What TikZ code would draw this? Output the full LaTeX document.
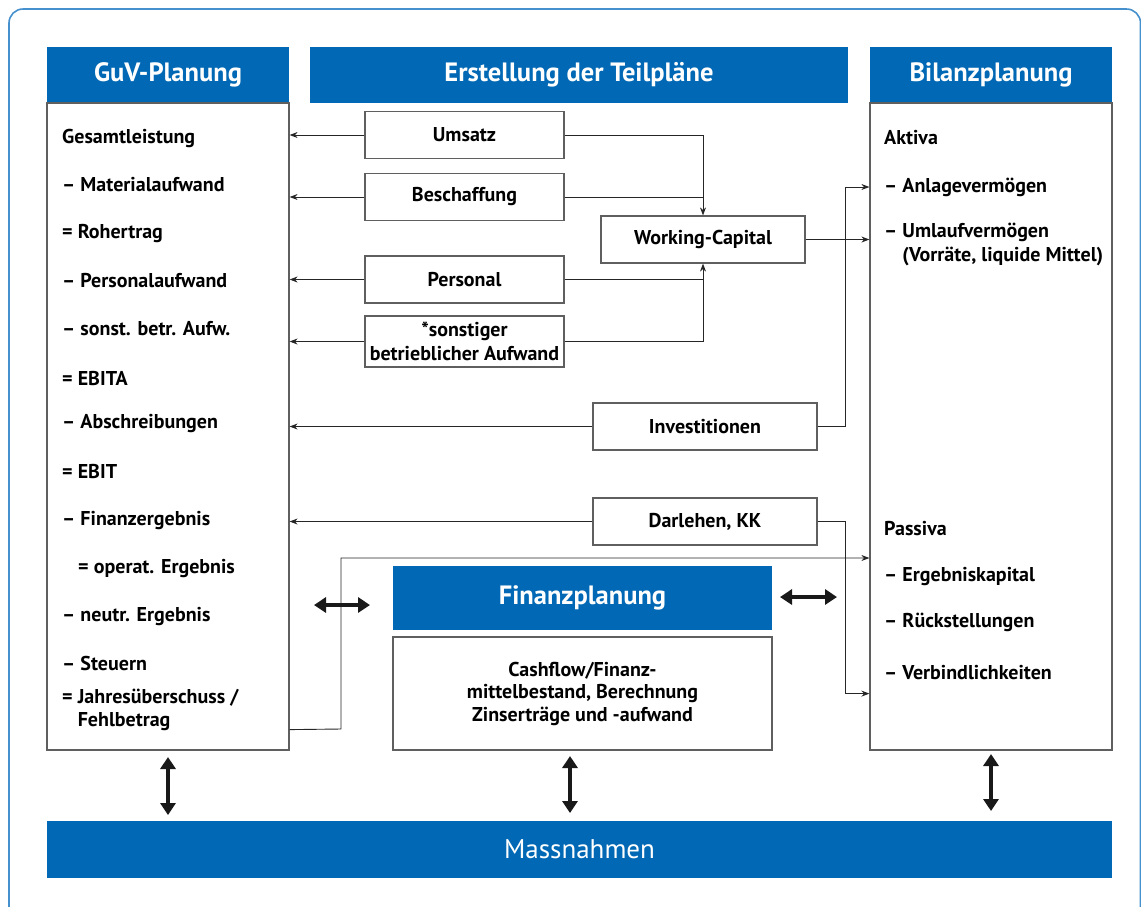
\documentclass[tikz,border=0pt]{standalone}
\usepackage{fontspec}
\setmainfont{PT Sans}
\usetikzlibrary{arrows.meta,calc}
\definecolor{hblue}{RGB}{0,104,180}
\definecolor{framec}{RGB}{70,145,205}
\definecolor{bgray}{RGB}{95,95,95}
\begin{document}
\begin{tikzpicture}[x=1pt,y=-1pt,
 header/.style={fill=hblue, text=white, font=\fontsize{26.5}{30}\selectfont\bfseries, inner sep=0pt},
 panel/.style={draw=bgray, line width=1.2pt, inner sep=0pt},
 smallbox/.style={draw=bgray, line width=1.2pt, font=\fontsize{20}{23.5}\selectfont\bfseries, align=center, inner sep=0pt, minimum height=47},
 item/.style={anchor=west, font=\fontsize{20}{23.5}\selectfont\bfseries, inner sep=0pt, align=left},
 conn/.style={draw=black!85, line width=0.9pt, -{Stealth[length=8pt,width=6pt]}},
 plain/.style={draw=black!85, line width=0.9pt},
 dbl/.style={draw=black!90, line width=4pt, {Triangle[length=12pt,width=15pt]}-{Triangle[length=12pt,width=15pt]}}
]
\useasboundingbox (0,0) rectangle (1141,906);
\clip (0,0) rectangle (1141,906);
\draw[draw=framec, line width=1.6pt, rounded corners=14pt] (9,9) rectangle (1140.5,960);

% headers
\node[header, minimum width=242, minimum height=56] (guvh) at (168,75) {GuV-Planung};
\node[header, minimum width=538, minimum height=56] (teilh) at (579,75) {Erstellung der Teilpläne};
\node[header, minimum width=242, minimum height=56] (bilh) at (991,75) {Bilanzplanung};

% panels
\node[panel, minimum width=242, minimum height=647] (guv) at (168,426.5) {};
\node[panel, minimum width=242, minimum height=647] (bil) at (991,426.5) {};

% GuV items
\node[item] (g1) at (62,138) {Gesamtleistung};
\node[item] (g2) at (62,185) {– Materialaufwand};
\node[item] (g3) at (62,234) {= Rohertrag};
\node[item] (g4) at (62,281) {– Personalaufwand};
\node[item] (g5) at (62,329) {– sonst. betr. Aufw.};
\node[item] (g6) at (62,378) {= EBITA};
\node[item] (g7) at (62,424) {– Abschreibungen};
\node[item] (g8) at (62,471) {= EBIT};
\node[item] (g9) at (62,520) {– Finanzergebnis};
\node[item] (g10) at (78,568) {= operat. Ergebnis};
\node[item] (g11) at (62,616) {– neutr. Ergebnis};
\node[item] (g12) at (62,663) {– Steuern};
\node[item] (g13) at (62,710) {= Jahresüberschuss /\\\hphantom{= }Fehlbetrag};

% Bilanz items
\node[item] (b1) at (884,138) {Aktiva};
\node[item] (anl) at (884,187) {– Anlagevermögen};
\node[item] (uml) at (884,244.5) {– Umlaufvermögen\\\hphantom{– }(Vorräte, liquide Mittel)};
\node[item] (b4) at (884,529) {Passiva};
\node[item] (b5) at (884,576) {– Ergebniskapital};
\node[item] (b6) at (884,622) {– Rückstellungen};
\node[item] (verb) at (884,673) {– Verbindlichkeiten};

% Teilpläne boxes
\node[smallbox, minimum width=199] (ums) at (464.5,135) {Umsatz};
\node[smallbox, minimum width=199] (besch) at (464.5,197) {Beschaffung};
\node[smallbox, minimum width=199] (pers) at (464.5,279.5) {Personal};
\node[smallbox, minimum width=199, minimum height=51] (sonst) at (464.5,341.5) {*sonstiger\\betrieblicher Aufwand};
\node[smallbox, minimum width=204] (wc) at (703,239.5) {Working-Capital};
\node[smallbox, minimum width=224] (inv) at (705,426.5) {Investitionen};
\node[smallbox, minimum width=224] (darl) at (705,521.5) {Darlehen, KK};

% Finanzplanung
\node[header, minimum width=379, minimum height=64] (finh) at (582.5,598) {Finanzplanung};
\node[panel, minimum width=379, minimum height=113, font=\fontsize{20}{22.5}\selectfont\bfseries, align=center] (fin) at (582.5,693.5) {Cashflow/Finanz-\\mittelbestand, Berechnung\\Zinserträge und -aufwand};

% Massnahmen
\node[header, minimum width=1065, minimum height=57, font=\fontsize{27}{30}\selectfont] (mass) at (579.5,849.5) {Massnahmen};

% connectors to GuV
\draw[conn] (ums.west) -- (ums.west -| guv.east);
\draw[conn] (besch.west) -- (besch.west -| guv.east);
\draw[conn] (pers.west) -- (pers.west -| guv.east);
\draw[conn] (sonst.west) -- (sonst.west -| guv.east);
\draw[conn] (inv.west) -- (inv.west -| guv.east);
\draw[conn] (darl.west) -- (darl.west -| guv.east);

% to Working-Capital
\draw[conn] (ums.east) -| (wc.north);
\draw[plain] (besch.east) -- (besch.east -| wc.north);
\draw[plain] (pers.east) -- (pers.east -| wc.south);
\draw[conn] (sonst.east) -| (wc.south);
\draw[conn] (wc.east) -- (wc.east -| bil.west);

% to Bilanz
\coordinate (anlIn) at (anl.west -| bil.west);
\coordinate (darlIn) at ($(bil.south west)+(0,-57)$);
\coordinate (jOut) at ($(guv.south east)+(0,-21)$);
\coordinate (jIn) at ($(bil.west)+(0,131.5)$);
\draw[conn] (inv.east) -- ++(28,0) |- (anlIn);
\draw[conn] (darl.east) -- ++(28,0) |- (darlIn);
\draw[conn] (jOut) -- (341,729) |- (jIn);

% thick double arrows
\coordinate (la1) at (314,605); \coordinate (la2) at (370,605);
\coordinate (ra1) at (780,597); \coordinate (ra2) at (837,597);
\coordinate (va1) at (168,757); \coordinate (va2) at (168,815);
\coordinate (vb1) at (570,756); \coordinate (vb2) at (570,813);
\coordinate (vc1) at (991,754); \coordinate (vc2) at (991,811);
\draw[dbl] (la1) -- (la2);
\draw[dbl] (ra1) -- (ra2);
\draw[dbl] (va1) -- (va2);
\draw[dbl] (vb1) -- (vb2);
\draw[dbl] (vc1) -- (vc2);
\end{tikzpicture}
\end{document}
